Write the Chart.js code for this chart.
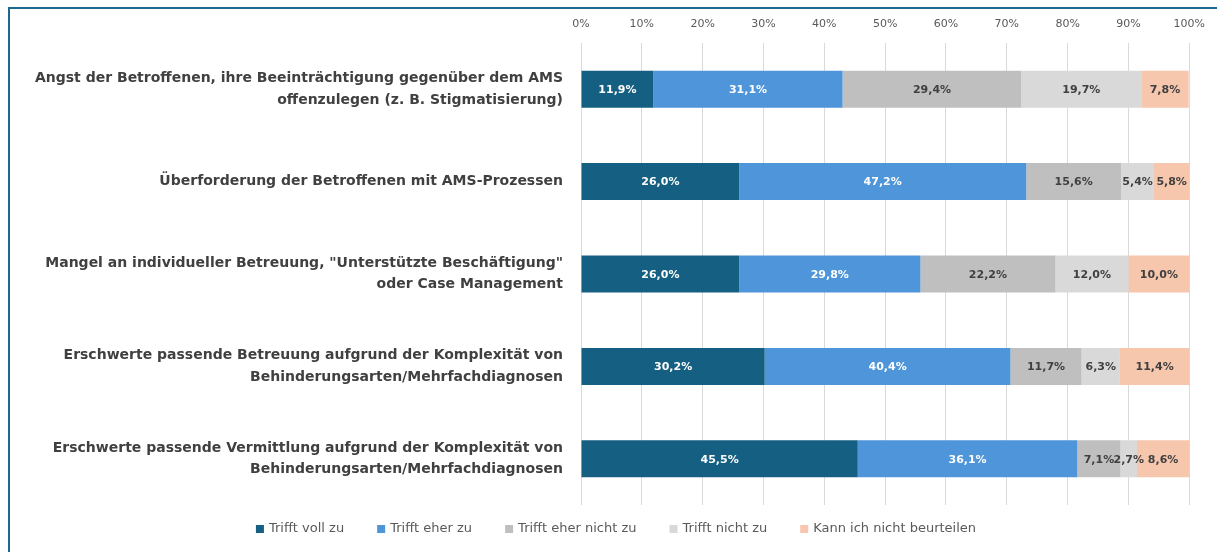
<!DOCTYPE html>
<html>
<head>
<meta charset="utf-8">
<script src="https://cdn.jsdelivr.net/npm/chart.js@4"></script>
<style>
  html, body { margin: 0; padding: 0; background: #fff; overflow: hidden; }
  #wrap { position: absolute; left: 0; top: 0; width: 1217px; height: 552px; }
  #frame { position: absolute; left: 8px; top: 7px; width: 1300px; height: 700px;
           border-left: 2px solid #1a6a8e; border-top: 2px solid #1a6a8e; }
</style>
</head>
<body>
<div id="frame"></div>
<div id="wrap"><canvas id="my-chart" width="1217" height="552"></canvas></div>
<script>
// Kategorien (mehrzeilig wie im Original)
const categories = [
  ["Angst der Betroffenen, ihre Beeinträchtigung gegenüber dem AMS", "offenzulegen (z. B. Stigmatisierung)"],
  "Überforderung der Betroffenen mit AMS-Prozessen",
  ["Mangel an individueller Betreuung, \"Unterstützte Beschäftigung\"", "oder Case Management"],
  ["Erschwerte passende Betreuung aufgrund der Komplexität von", "Behinderungsarten/Mehrfachdiagnosen"],
  ["Erschwerte passende Vermittlung aufgrund der Komplexität von", "Behinderungsarten/Mehrfachdiagnosen"]
];

const seriesNames = ["Trifft voll zu", "Trifft eher zu", "Trifft eher nicht zu", "Trifft nicht zu", "Kann ich nicht beurteilen"];

const trifftVoll      = [11.9, 26.0, 26.0, 30.2, 45.5];
const trifftEher      = [31.1, 47.2, 29.8, 40.4, 36.1];
const trifftEherNicht = [29.4, 15.6, 22.2, 11.7, 7.1];
const trifftNicht     = [19.7, 5.4, 12.0, 6.3, 2.7];
const kannNicht       = [7.8, 5.8, 10.0, 11.4, 8.6];

const tickValues = [0, 10, 20, 30, 40, 50, 60, 70, 80, 90, 100];

const colors = ["#156082", "#4e95d9", "#bfbfbf", "#d9d9d9", "#f6c6ad"];
const labelColors = ["#ffffff", "#ffffff", "#404040", "#404040", "#404040"];

const allSeries = [trifftVoll, trifftEher, trifftEherNicht, trifftNicht, kannNicht];

const FONT = "'DejaVu Sans', sans-serif";

// Werte mittig in die Balkensegmente schreiben
const segmentLabels = {
  id: 'segmentLabels',
  afterDatasetsDraw(chart) {
    const ctx = chart.ctx;
    ctx.save();
    ctx.font = "bold 11px " + FONT;
    ctx.textAlign = 'center';
    ctx.textBaseline = 'middle';
    chart.data.datasets.forEach((ds, i) => {
      const meta = chart.getDatasetMeta(i);
      meta.data.forEach((bar, j) => {
        const v = ds.data[j];
        const cx = (bar.x + bar.base) / 2;
        ctx.fillStyle = labelColors[i];
        ctx.fillText(v.toFixed(1).replace('.', ',') + '%', cx, bar.y + 1);
      });
    });
    ctx.restore();
  }
};

// eigene Legende unten, breiter gesetzt als die Standardlegende
const bottomLegend = {
  id: 'bottomLegend',
  afterDraw(chart) {
    const ctx = chart.ctx;
    ctx.save();
    ctx.font = "13px " + FONT;
    ctx.textBaseline = 'middle';
    const box = 8, gap = 5, spacing = 33;
    const items = chart.data.datasets.map(ds => ({
      text: ds.label, color: ds.backgroundColor, w: box + gap + ctx.measureText(ds.label).width
    }));
    const total = items.reduce((s, it) => s + it.w, 0) + spacing * (items.length - 1);
    let x = 616 - total / 2;
    const y = 529;
    items.forEach(it => {
      ctx.fillStyle = it.color;
      ctx.fillRect(x, y - box / 2, box, box);
      ctx.fillStyle = '#595959';
      ctx.fillText(it.text, x + box + gap, y);
      x += it.w + spacing;
    });
    ctx.restore();
  }
};

new Chart(document.getElementById("my-chart"), {
  type: 'bar',
  data: {
    labels: categories,
    datasets: allSeries.map((d, i) => ({
      label: seriesNames[i],
      data: d,
      backgroundColor: colors[i],
      borderWidth: 0,
      categoryPercentage: 1,
      barPercentage: 0.4
    }))
  },
  plugins: [segmentLabels, bottomLegend],
  options: {
    indexAxis: 'y',
    responsive: false,
    animation: false,
    layout: { padding: { left: 10, right: 23, top: 8, bottom: 47 } },
    scales: {
      x: {
        position: 'top',
        stacked: true,
        min: 0,
        max: 100,
        afterBuildTicks: (scale) => { scale.ticks = tickValues.map(v => ({ value: v })); },
        afterFit: (scale) => { scale.height = 35; },
        ticks: {
          color: '#595959',
          font: { family: FONT, size: 11 },
          padding: 12,
          callback: (v) => v + '%'
        },
        grid: { color: '#d9d9d9', drawTicks: false },
        border: { display: false }
      },
      y: {
        stacked: true,
        afterFit: (scale) => { scale.width = 571; },
        ticks: {
          color: '#404040',
          font: { family: FONT, size: 14, weight: 'bold', lineHeight: 1.55 },
          padding: 10
        },
        grid: { display: false },
        border: { display: false }
      }
    },
    plugins: {
      tooltip: { enabled: false },
      legend: { display: false }
    }
  }
});
</script>
</body>
</html>
